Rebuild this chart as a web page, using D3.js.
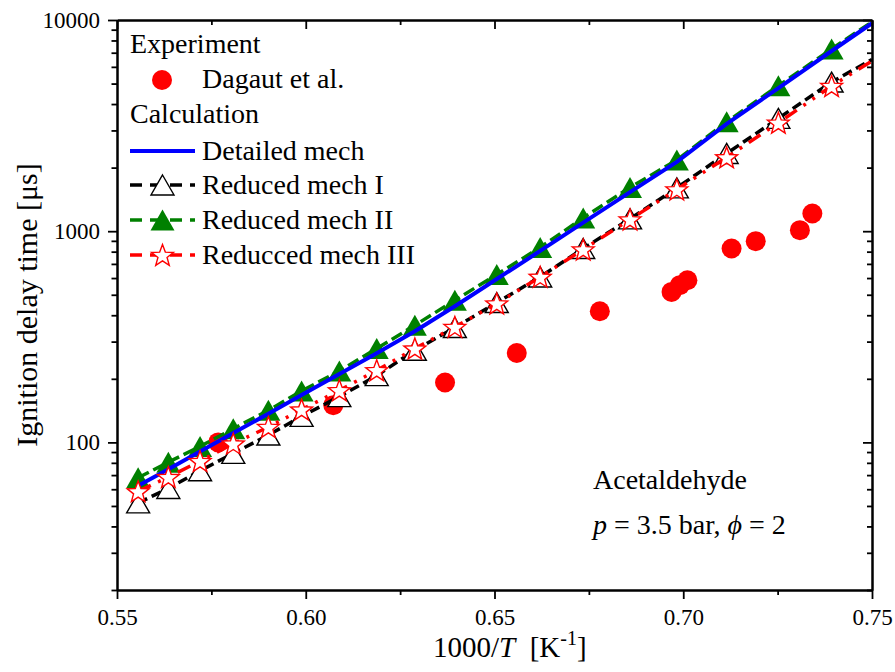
<!DOCTYPE html>
<html>
<head>
<meta charset="utf-8">
<script src="https://cdn.jsdelivr.net/npm/d3@7"></script>
<style>
  body { margin: 0; background: #fff; }
</style>
</head>
<body>
<div id="chart"></div>
<script>
// axis ticks
const xMajorTicks = [0.55, 0.6, 0.65, 0.7, 0.75]
const xMinorTicks = [0.575, 0.625, 0.675, 0.725]
const yMajorTicks = [100, 1000, 10000]
const yMinorTicks = [
  20, 30, 40, 50, 60, 70, 80, 90,
  200, 300, 400, 500, 600, 700, 800, 900,
  2000, 3000, 4000, 5000, 6000, 7000, 8000, 9000,
]

// Experiment: Dagaut et al.
const dagautX = [0.5768, 0.6073, 0.6369, 0.6559, 0.6779, 0.6969, 0.6991, 0.7011, 0.7128, 0.7192, 0.7309, 0.7342]
const dagautTau = [100, 150, 192, 265, 418, 516, 555, 586, 828, 897, 1011, 1213]

// Calculation, 1000/T of the markers (lines run on to lineEndX)
const calcX = [
  0.5556, 0.5636, 0.572, 0.5808, 0.5901, 0.5989, 0.6089, 0.6188, 0.6289,
  0.6395, 0.6506, 0.6621, 0.6735, 0.6859, 0.6983, 0.7115, 0.7252, 0.7393,
]
const lineEndX = 0.75

const detailedMech = [62.3, 74.7, 90.6, 110.7, 136.8, 167.6, 210.5, 264.2, 335.8, 441, 593.6, 806.3, 1097.5, 1530, 2128, 3222, 4762, 7131]
const detailedMechEnd = 9650
const reducedMechI = [51.7, 60.5, 73.4, 88.7, 108.3, 132.8, 164.7, 207, 272.9, 349.7, 459.3, 607.3, 827.9, 1144, 1604, 2334, 3421, 5083]
const reducedMechIEnd = 6500
const reducedMechII = [68, 80.6, 95.7, 116.1, 141.8, 175.1, 217.7, 278, 358.4, 470.9, 623.4, 837, 1156, 1611, 2171, 3296, 4883, 7289]
const reducedMechIIEnd = 9800
const reducedMechIII = [58.6, 68.5, 81.5, 98.6, 118.2, 142.9, 176.4, 219.4, 278, 351.9, 454.3, 607.3, 818.9, 1136, 1576, 2236, 3261, 4867]
const reducedMechIIIEnd = 6400

const FONT = '"Liberation Serif", "Times New Roman", serif'
const WIDTH = 895
const HEIGHT = 672
const margin = { top: 20, right: 23, bottom: 82, left: 117 }

const svg = d3.select('#chart')
  .append('svg')
  .attr('width', WIDTH)
  .attr('height', HEIGHT)
  .style('display', 'block')

const addText = (parent, size) => parent.append('text')
  .style('font-family', FONT)
  .attr('font-size', size)

const x = d3.scaleLinear()
  .domain([0.55, 0.75])
  .range([margin.left, WIDTH - margin.right])

const y = d3.scaleLog()
  .domain([20, 10000])
  .range([HEIGHT - margin.bottom, margin.top])

const trianglePath = (w, h) => `M0,${-h / 2}L${w / 2},${h / 2}L${-w / 2},${h / 2}Z`

const starPath = (R, r) => {
  const pts = []
  for (let i = 0; i < 10; i++) {
    const rad = i % 2 === 0 ? R : r
    const a = -Math.PI / 2 + (i * Math.PI) / 5
    pts.push([rad * Math.cos(a), rad * Math.sin(a) + 1])
  }
  return 'M' + pts.map(p => p.join(',')).join('L') + 'Z'
}

const markers = {
  circle: g => g.append('circle').attr('r', 10).attr('fill', '#ff0000'),
  triFilled: g => g.append('path').attr('d', trianglePath(24, 21)).attr('fill', '#008000'),
  triOpen: g => g.append('path').attr('d', trianglePath(23, 20))
    .attr('fill', '#fff').attr('stroke', '#000').attr('stroke-width', 1.4),
  star: g => g.append('path').attr('d', starPath(11.5, 4.8))
    .attr('fill', '#fff').attr('stroke', '#ff0000').attr('stroke-width', 1.4),
}

const lineX = calcX.concat([lineEndX])

const series = [
  { key: 'Reduced mech II', values: reducedMechII, end: reducedMechIIEnd, color: '#008000', dash: '12,5', width: 3.5, marker: 'triFilled' },
  { key: 'Detailed mech', values: detailedMech, end: detailedMechEnd, color: '#0000ff', dash: null, width: 4, marker: null },
  { key: 'Reduced mech I', values: reducedMechI, end: reducedMechIEnd, color: '#000', dash: '10,5', width: 3.5, marker: 'triOpen' },
  { key: 'Reducced mech III', values: reducedMechIII, end: reducedMechIIIEnd, color: '#ff0000', dash: '14,8,3,8,3,8', width: 3.5, marker: 'star' },
]

const line = d3.line()
  .x(d => x(d[0]))
  .y(d => y(d[1]))

// experiment points
svg.append('g')
  .selectAll('g')
  .data(dagautX.map((v, i) => [v, dagautTau[i]]))
  .join('g')
  .attr('transform', d => `translate(${x(d[0])},${y(d[1])})`)
  .each(function() { markers.circle(d3.select(this)) })

// calculated curves
series.forEach(s => {
  const pts = lineX.map((v, i) => [v, i < s.values.length ? s.values[i] : s.end])
  svg.append('path')
    .datum(pts)
    .attr('d', line)
    .attr('fill', 'none')
    .attr('stroke', s.color)
    .attr('stroke-width', s.width)
    .attr('stroke-dasharray', s.dash)

  if (s.marker) {
    svg.append('g')
      .selectAll('g')
      .data(calcX.map((v, i) => [v, s.values[i]]))
      .join('g')
      .attr('transform', d => `translate(${x(d[0])},${y(d[1])})`)
      .each(function() { markers[s.marker](d3.select(this)) })
  }
})

// axes
const styleAxis = g => {
  g.attr('font-family', null).attr('font-size', 23)
  g.select('.domain').attr('stroke-width', 2)
  g.selectAll('.tick line').attr('stroke-width', 1.8)
  g.selectAll('.tick text')
    .attr('fill', '#000')
    .style('font-family', FONT)
}

const bottom = HEIGHT - margin.bottom
const right = WIDTH - margin.right

svg.append('g')
  .attr('transform', `translate(0,${bottom})`)
  .call(d3.axisBottom(x).tickValues(xMinorTicks).tickSize(5).tickFormat('').tickSizeOuter(0))
  .call(styleAxis)
svg.append('g')
  .attr('transform', `translate(0,${bottom})`)
  .call(d3.axisBottom(x).tickValues(xMajorTicks).tickSize(9).tickPadding(10)
    .tickFormat(d3.format('.2f')).tickSizeOuter(0))
  .call(styleAxis)

svg.append('g')
  .attr('transform', `translate(0,${margin.top})`)
  .call(d3.axisTop(x).tickValues(xMinorTicks).tickSize(-5).tickFormat('').tickSizeOuter(0))
  .call(styleAxis)
svg.append('g')
  .attr('transform', `translate(0,${margin.top})`)
  .call(d3.axisTop(x).tickValues(xMajorTicks).tickSize(-9).tickFormat('').tickSizeOuter(0))
  .call(styleAxis)

svg.append('g')
  .attr('transform', `translate(${margin.left},0)`)
  .call(d3.axisLeft(y).tickValues(yMinorTicks).tickSize(5.5).tickFormat('').tickSizeOuter(0))
  .call(styleAxis)
svg.append('g')
  .attr('transform', `translate(${margin.left},0)`)
  .call(d3.axisLeft(y).tickValues(yMajorTicks).tickSize(9).tickPadding(8)
    .tickFormat(d3.format('d')).tickSizeOuter(0))
  .call(styleAxis)

svg.append('g')
  .attr('transform', `translate(${right},0)`)
  .call(d3.axisRight(y).tickValues(yMinorTicks).tickSize(-5).tickFormat('').tickSizeOuter(0))
  .call(styleAxis)
svg.append('g')
  .attr('transform', `translate(${right},0)`)
  .call(d3.axisRight(y).tickValues(yMajorTicks).tickSize(-9).tickFormat('').tickSizeOuter(0))
  .call(styleAxis)

// axis titles
const xTitle = addText(svg, 29)
  .attr('x', 433)
  .attr('y', 657)
  .style('white-space', 'pre')
xTitle.append('tspan').text('1000/')
xTitle.append('tspan').attr('font-style', 'italic').text('T')
xTitle.append('tspan').text('  [K')
xTitle.append('tspan').attr('font-size', 20).attr('dy', -12).text('-1')
xTitle.append('tspan').attr('dy', 12).text(']')

addText(svg, 30)
  .attr('transform', `translate(37,${(margin.top + bottom) / 2}) rotate(-90)`)
  .attr('text-anchor', 'middle')
  .text('Ignition delay time [μs]')

// legend
const legend = svg.append('g')

addText(legend, 28).attr('x', 130).attr('y', 53).text('Experiment')
markers.circle(legend.append('g').attr('transform', 'translate(162,80)'))
addText(legend, 28).attr('x', 202).attr('y', 88).text('Dagaut et al.')
addText(legend, 28).attr('x', 130).attr('y', 123).text('Calculation')

const legendRows = [
  { s: series[1], y: 151 },
  { s: series[2], y: 185 },
  { s: series[0], y: 220 },
  { s: series[3], y: 255 },
]

legendRows.forEach(row => {
  legend.append('line')
    .attr('x1', 130)
    .attr('x2', 195)
    .attr('y1', row.y)
    .attr('y2', row.y)
    .attr('stroke', row.s.color)
    .attr('stroke-width', row.s.width)
    .attr('stroke-dasharray', row.s.dash ? '12,8' : null)
  if (row.s.marker) {
    markers[row.s.marker](legend.append('g').attr('transform', `translate(162.5,${row.y})`))
  }
  addText(legend, 28)
    .attr('x', 202)
    .attr('y', row.y + 9)
    .text(row.s.key)
})

// condition note
addText(svg, 28).attr('x', 593).attr('y', 489).text('Acetaldehyde')
const cond = addText(svg, 28).attr('x', 593).attr('y', 534).style('white-space', 'pre')
cond.append('tspan').attr('font-style', 'italic').text('p')
cond.append('tspan').text(' = 3.5 bar, ')
cond.append('tspan').attr('font-style', 'italic').text('ϕ')
cond.append('tspan').text(' = 2')
</script>
</body>
</html>
